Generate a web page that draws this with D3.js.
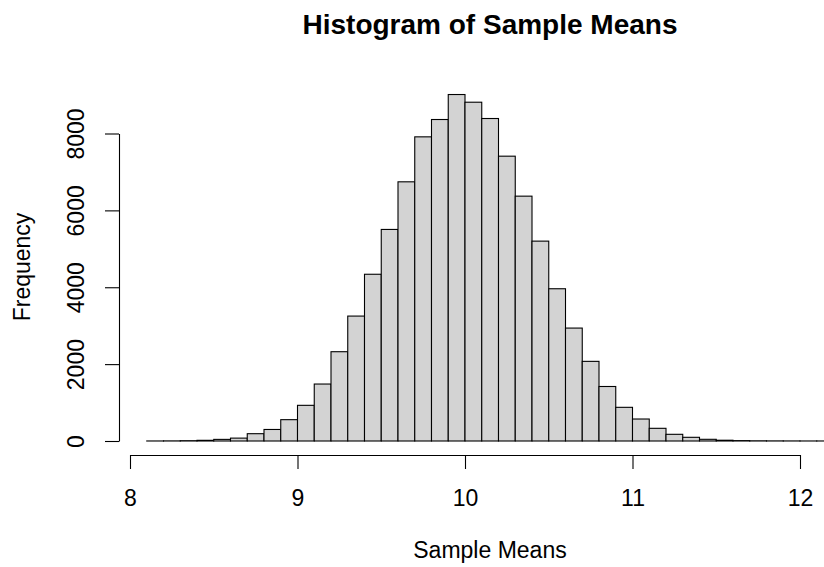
<!DOCTYPE html>
<html>
<head>
<meta charset="utf-8">
<script src="https://cdn.jsdelivr.net/npm/d3@7"></script>
<style>
  html, body { margin: 0; padding: 0; background: #fff; }
  svg { display: block; font-family: "Liberation Sans", Arial, Helvetica, sans-serif; }
</style>
</head>
<body>
<svg id="chart" width="824" height="567"></svg>
<script>
// Data: histogram bins of width 0.1 starting at 8.1
const binStart = 8.1;
const binWidth = 0.1;
const counts = [1, 3, 8, 18, 42, 75, 190, 300, 555, 928,
                1482, 2323, 3250, 4338, 5504, 6743, 7913, 8364, 9014, 8814,
                8390, 7410, 6370, 5200, 3961, 2938, 2072, 1418, 876, 572,
                330, 174, 96, 44, 20, 10, 5, 3, 2, 1, 1];
const xTicks = [8, 9, 10, 11, 12];
const yTicks = [0, 2000, 4000, 6000, 8000];
const title = "Histogram of Sample Means";
const xLabel = "Sample Means";
const yLabel = "Frequency";

const bins = counts.map((c, i) => ({
  x0: +(binStart + i * binWidth).toFixed(2),
  x1: +(binStart + (i + 1) * binWidth).toFixed(2),
  count: c
}));

const svg = d3.select("#chart");
const x = d3.scaleLinear().domain([8, 12]).range([130, 800]);
const y = d3.scaleLinear().domain([0, 8000]).range([441, 133.5]);

// Bars
svg.append("g")
  .selectAll("rect")
  .data(bins)
  .join("rect")
  .attr("x", d => x(d.x0))
  .attr("width", d => x(d.x1) - x(d.x0))
  .attr("y", d => y(d.count))
  .attr("height", d => y(0) - y(d.count))
  .attr("fill", "#d3d3d3")
  .attr("stroke", "#000")
  .attr("stroke-width", 1.1);

// X axis
const xAxis = svg.append("g")
  .attr("transform", "translate(0,455)")
  .call(d3.axisBottom(x).tickValues(xTicks).tickFormat(d3.format("d")).tickSize(14).tickSizeOuter(0));
xAxis.select(".domain").attr("stroke", "#000").attr("stroke-width", 1.1);
xAxis.selectAll(".tick line").attr("stroke", "#000").attr("stroke-width", 1.1);
xAxis.selectAll(".tick text")
  .attr("y", 51).attr("dy", 0)
  .attr("font-size", 23)
  .attr("font-family", "Liberation Sans, Arial, sans-serif")
  .attr("fill", "#000");

// Y axis
const yAxis = svg.append("g")
  .attr("transform", "translate(119,0)")
  .call(d3.axisLeft(y).tickValues(yTicks).tickFormat(d3.format("d")).tickSize(14).tickSizeOuter(0));
yAxis.select(".domain").attr("stroke", "#000").attr("stroke-width", 1.1);
yAxis.selectAll(".tick line").attr("stroke", "#000").attr("stroke-width", 1.1);
yAxis.selectAll(".tick text")
  .attr("x", 0).attr("dy", 0)
  .attr("transform", "translate(-35.5,0) rotate(-90)")
  .attr("text-anchor", "middle")
  .attr("font-size", 23)
  .attr("font-family", "Liberation Sans, Arial, sans-serif")
  .attr("fill", "#000");

// Title
svg.append("text")
  .attr("x", 490).attr("y", 34)
  .attr("text-anchor", "middle")
  .attr("font-size", 28)
  .attr("font-weight", "bold")
  .text(title);

// X label
svg.append("text")
  .attr("x", 490).attr("y", 558)
  .attr("text-anchor", "middle")
  .attr("font-size", 23)
  .text(xLabel);

// Y label
svg.append("text")
  .attr("transform", "translate(30,267) rotate(-90)")
  .attr("text-anchor", "middle")
  .attr("font-size", 23)
  .text(yLabel);
</script>
</body>
</html>
